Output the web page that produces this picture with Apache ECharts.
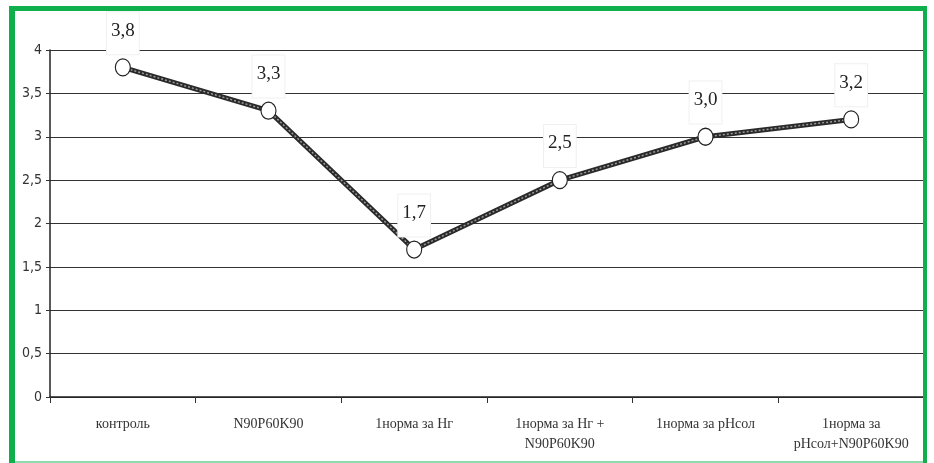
<!DOCTYPE html>
<html>
<head>
<meta charset="utf-8">
<script src="https://cdn.jsdelivr.net/npm/echarts@6/dist/echarts.min.js"></script>
<style>
  html, body { margin: 0; padding: 0; background: #ffffff; }
  #chart { width: 934px; height: 463px; }
</style>
</head>
<body>
<div id="chart"></div>
<script>
// Categories (treatments) and measured values
const categories = [
  'контроль',
  'N90P60K90',
  '1норма за Нг',
  '1норма за Нг +\nN90P60K90',
  '1норма за рНсол',
  '1норма за\nрНсол+N90P60K90'
];
const values = [3.8, 3.3, 1.7, 2.5, 3.0, 3.2];
const valueLabels = ['3,8', '3,3', '1,7', '2,5', '3,0', '3,2'];
const yTicks = [0, 0.5, 1, 1.5, 2, 2.5, 3, 3.5, 4];

const chart = echarts.init(document.getElementById('chart'));

const labelStyle = {
  show: true,
  position: 'top',
  distance: 4,
  formatter: p => valueLabels[p.dataIndex],
  fontFamily: 'Liberation Serif',
  fontSize: 19,
  color: '#222',
  backgroundColor: '#ffffff',
  borderColor: '#f0f0f0',
  borderWidth: 1,
  padding: [9, 4, 14, 4]
};

chart.setOption({
  animation: false,
  backgroundColor: '#ffffff',
  grid: { left: 50, right: 10, top: 50, bottom: 66, containLabel: false },
  xAxis: {
    type: 'category',
    data: categories,
    boundaryGap: true,
    axisLine: { show: true, lineStyle: { color: '#222', width: 1.5 } },
    axisTick: { show: true, length: 6, lineStyle: { color: '#333' } },
    axisLabel: {
      margin: 17,
      fontFamily: 'Liberation Serif',
      fontSize: 14,
      lineHeight: 20,
      color: '#333',
      interval: 0
    },
    splitLine: { show: false }
  },
  yAxis: {
    type: 'value',
    min: yTicks[0],
    max: yTicks[yTicks.length - 1],
    interval: 0.5,
    axisLine: { show: true, lineStyle: { color: '#222', width: 1.5 } },
    axisTick: { show: true, length: 4, lineStyle: { color: '#333' } },
    axisLabel: {
      margin: 8,
      fontFamily: 'DejaVu Sans Condensed',
      fontSize: 14,
      color: '#333',
      formatter: v => String(v).replace('.', ',')
    },
    splitLine: { show: true, lineStyle: { color: '#333', width: 1 } }
  },
  series: [
    {
      type: 'line',
      data: values,
      z: 2,
      symbol: 'none',
      lineStyle: { color: '#2a2a2a', width: 5 },
      silent: true
    },
    {
      type: 'line',
      data: values,
      z: 3,
      symbol: 'none',
      lineStyle: { color: '#9a9a9a', width: 1.5, type: [2, 2] },
      silent: true
    },
    {
      type: 'line',
      data: values,
      z: 4,
      symbol: 'circle',
      symbolSize: [15, 17],
      itemStyle: { color: '#ffffff', borderColor: '#222', borderWidth: 1.2 },
      lineStyle: { width: 0, opacity: 0 },
      label: labelStyle
    }
  ],
  graphic: [
    // green frame around the figure
    { type: 'rect', left: 9, top: 6, shape: { width: 6, height: 457 }, style: { fill: '#0fb04c' }, z: 10 },
    { type: 'rect', left: 9, top: 6, shape: { width: 918, height: 5 }, style: { fill: '#0fb04c' }, z: 10 },
    { type: 'rect', left: 923, top: 6, shape: { width: 4, height: 457 }, style: { fill: '#0fb04c' }, z: 10 },
    { type: 'rect', left: 15, top: 461, shape: { width: 908, height: 2 }, style: { fill: '#8fdcae' }, z: 10 }
  ]
});
</script>
</body>
</html>
